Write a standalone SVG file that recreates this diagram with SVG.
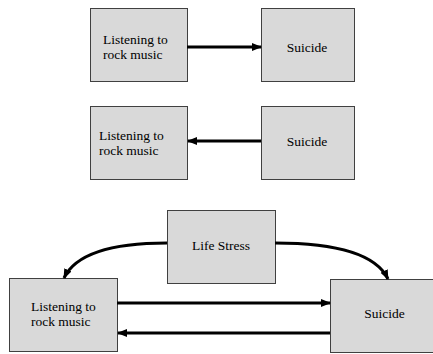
<svg xmlns="http://www.w3.org/2000/svg" width="433" height="354" viewBox="0 0 433 354">
<style>
.box{fill:#d9d9d9;stroke:#404040;stroke-width:1}
text{font-family:"Liberation Serif","Times New Roman",Times,serif;font-size:13.5px;fill:#000}
.c{text-anchor:middle}
.ln{fill:none;stroke:#000;stroke-width:3}
</style>
<defs>
<marker id="ah" viewBox="0 0 10 10" refX="9" refY="5" markerWidth="10" markerHeight="10" markerUnits="userSpaceOnUse" orient="auto">
<path d="M0,1 L10,5 L0,9 Z" fill="#000"/>
</marker>
</defs>
<g id="listening1"><rect class="box" x="90.5" y="8.5" width="97" height="73"/><text x="103" y="43.5">Listening to</text><text x="103" y="58.5">rock music</text></g>
<g id="suicide1"><rect class="box" x="261.5" y="8.5" width="93" height="73"/><text class="c" x="307" y="52">Suicide</text></g>
<g id="listening2"><rect class="box" x="90.5" y="106.5" width="97" height="73"/><text x="99" y="140">Listening to</text><text x="99" y="155">rock music</text></g>
<g id="suicide2"><rect class="box" x="261.5" y="106.5" width="93" height="73"/><text class="c" x="307" y="146">Suicide</text></g>
<g id="lifestress"><rect class="box" x="167.5" y="210.5" width="108" height="73"/><text class="c" x="221" y="250">Life Stress</text></g>
<g id="listening3"><rect class="box" x="9.5" y="278.5" width="108" height="73"/><text x="31" y="311">Listening to</text><text x="31" y="326">rock music</text></g>
<g id="suicide3"><rect class="box" x="330.5" y="279.5" width="108" height="73"/><text class="c" x="384.5" y="318">Suicide</text></g>
<g id="connectors">
<path class="ln" d="M187,47 L261,47" marker-end="url(#ah)"/>
<path class="ln" d="M261,141 L188,141" marker-end="url(#ah)"/>
<path class="ln" d="M117,303 L330,303" marker-end="url(#ah)"/>
<path class="ln" d="M330,333 L118,333" marker-end="url(#ah)"/>
<path class="ln" d="M167,243 C110,243 75,255 64,278" marker-end="url(#ah)"/>
<path class="ln" d="M275,243 C332,243 375,252 388,279" marker-end="url(#ah)"/>
</g>
</svg>
